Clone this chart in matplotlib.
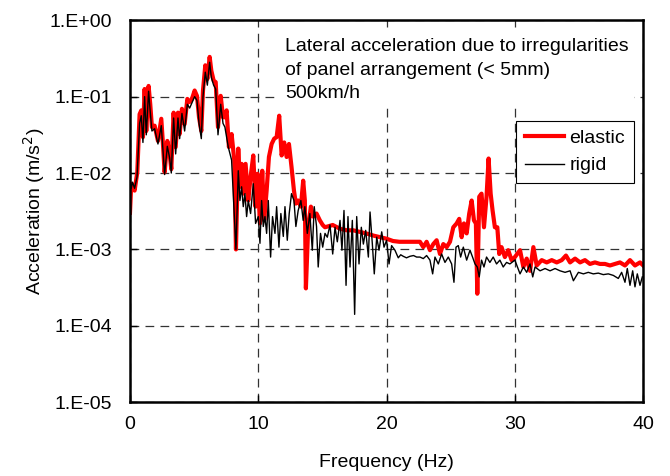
import numpy as np
import matplotlib
matplotlib.use("Agg")
import matplotlib.pyplot as plt
from matplotlib.ticker import FixedLocator, FuncFormatter, NullLocator

plt.rcParams['font.family'] = ['Liberation Sans', 'DejaVu Sans']
plt.rcParams['font.size'] = 14

# elastic track: frequency (Hz) and log10 of acceleration (m/s2)
elastic_freq = [0.0, 0.10, 0.2, 0.36, 0.57, 0.75, 0.88, 1.01, 1.14, 1.27,
                1.45, 1.58, 1.71, 1.92, 2.18, 2.44, 2.57, 2.70, 2.91, 3.09,
                3.22, 3.40, 3.56, 3.74, 3.87, 4.05, 4.26, 4.47, 4.65, 4.83,
                5.04, 5.22, 5.38, 5.56, 5.69, 5.87, 6.03, 6.21, 6.34, 6.52,
                6.68, 6.86, 7.07, 7.25, 7.40, 7.53, 7.71, 7.92, 8.13, 8.26,
                8.44, 8.57, 8.70, 8.83, 9.01, 9.22, 9.40, 9.61, 9.79, 9.95,
                10.13, 10.31, 10.46, 10.65, 10.83, 11.04, 11.24, 11.43, 11.63, 11.82,
                12.02, 12.21, 12.39, 12.59, 12.78, 12.93, 13.11, 13.32, 13.50, 13.63,
                13.71, 13.89, 14.10, 14.28, 14.54, 14.80, 15.02, 15.2, 15.8, 16.37,
                16.9, 17.4, 17.9, 18.4, 19.0, 19.5, 20.0, 20.5, 21.0, 21.6,
                22.1, 22.6, 22.86, 23.12, 23.38, 23.64, 23.9, 24.16, 24.42, 24.68,
                24.94, 25.2, 25.46, 25.66, 25.85, 26.03, 26.24, 26.44, 26.63, 26.81,
                26.96, 27.07, 27.22, 27.4, 27.59, 27.79, 27.95, 28.11, 28.26, 28.44,
                28.63, 28.78, 28.96, 29.22, 29.48, 29.74, 30.0, 30.4, 30.66, 30.92,
                31.18, 31.44, 31.7, 32.09, 32.48, 32.87, 33.26, 33.65, 33.98, 34.3,
                34.69, 35.08, 35.46, 35.85, 36.24, 36.63, 37.02, 37.41, 37.8, 38.19,
                38.58, 38.97, 39.36, 39.75, 40.0]
elastic_log = [-2.52, -2.14, -2.18, -2.23, -1.99, -1.23, -1.18, -1.53, -0.90, -1.45,
               -0.86, -1.10, -1.40, -1.38, -1.58, -1.29, -1.62, -1.99, -1.58, -1.75,
               -1.95, -1.21, -1.66, -1.21, -1.49, -1.16, -1.36, -1.03, -1.07, -1.03,
               -0.92, -0.99, -1.27, -1.45, -0.92, -0.59, -0.77, -0.48, -0.66, -0.79,
               -0.81, -1.40, -0.99, -1.27, -1.27, -1.18, -1.66, -1.49, -1.83, -3.00,
               -1.68, -2.18, -1.88, -2.27, -1.88, -2.36, -2.05, -1.77, -2.44, -2.01,
               -2.66, -1.97, -2.62, -2.23, -1.79, -1.62, -1.55, -1.53, -1.25, -1.77,
               -1.60, -1.79, -1.62, -1.92, -2.23, -2.40, -2.36, -2.44, -2.10, -2.36,
               -3.51, -2.70, -2.44, -2.57, -2.53, -2.62, -2.68, -2.71, -2.68, -2.73,
               -2.75, -2.75, -2.77, -2.79, -2.82, -2.84, -2.86, -2.89, -2.90, -2.90,
               -2.90, -2.90, -2.97, -2.90, -3.01, -2.93, -2.88, -3.06, -2.93, -2.97,
               -2.90, -2.71, -2.66, -2.60, -2.84, -2.66, -2.79, -2.53, -2.36, -2.62,
               -2.66, -3.58, -2.31, -2.27, -2.71, -2.31, -1.81, -2.27, -2.49, -2.71,
               -2.71, -3.06, -2.97, -3.10, -3.01, -3.14, -3.10, -3.01, -3.23, -3.12,
               -3.28, -2.97, -3.21, -3.14, -3.17, -3.14, -3.17, -3.14, -3.08, -3.17,
               -3.12, -3.17, -3.14, -3.19, -3.17, -3.19, -3.19, -3.21, -3.19, -3.17,
               -3.21, -3.14, -3.21, -3.17, -3.21]

# rigid track
rigid_freq = [0.0, 0.10, 0.2, 0.36, 0.55, 0.75, 0.88, 1.01, 1.14, 1.27,
              1.45, 1.58, 1.71, 1.92, 2.18, 2.44, 2.57, 2.70, 2.91, 3.09,
              3.22, 3.40, 3.56, 3.74, 3.87, 4.05, 4.26, 4.47, 4.65, 4.83,
              5.04, 5.22, 5.38, 5.56, 5.69, 5.87, 6.03, 6.21, 6.34, 6.52,
              6.68, 6.86, 7.07, 7.25, 7.40, 7.66, 7.92, 8.05, 8.26, 8.44,
              8.57, 8.70, 8.83, 8.96, 9.09, 9.22, 9.40, 9.61, 9.79, 10.0,
              10.13, 10.26, 10.39, 10.52, 10.65, 10.78, 10.96, 11.11, 11.30, 11.43,
              11.61, 11.76, 11.95, 12.08, 12.26, 12.41, 12.59, 12.78, 12.93, 13.11,
              13.32, 13.50, 13.63, 13.82, 14.02, 14.21, 14.36, 14.54, 14.67, 14.85,
              15.02, 15.2, 15.38, 15.59, 15.8, 15.98, 16.16, 16.37, 16.52, 16.68,
              16.84, 16.99, 17.15, 17.33, 17.51, 17.67, 17.85, 18.03, 18.19, 18.37,
              18.58, 18.71, 18.89, 19.04, 19.23, 19.41, 19.62, 19.80, 20.0, 20.19,
              20.39, 20.65, 20.91, 21.1, 21.3, 21.55, 21.82, 22.1, 22.34, 22.6,
              22.86, 23.12, 23.38, 23.59, 23.77, 24.03, 24.29, 24.55, 24.81, 25.07,
              25.25, 25.41, 25.59, 25.77, 25.98, 26.24, 26.5, 26.7, 26.89, 27.07,
              27.22, 27.4, 27.59, 27.79, 28.05, 28.31, 28.57, 28.83, 29.09, 29.35,
              29.61, 30.0, 30.4, 30.66, 30.92, 31.18, 31.39, 31.57, 31.96, 32.35,
              32.74, 33.13, 33.52, 33.91, 34.3, 34.56, 34.95, 35.34, 35.72, 36.11,
              36.5, 36.89, 37.28, 37.67, 38.06, 38.32, 38.58, 38.76, 38.97, 39.18,
              39.36, 39.54, 39.75, 39.93]
rigid_log = [-2.10, -2.20, -2.12, -2.20, -2.05, -1.35, -1.25, -1.60, -1.00, -1.50,
             -0.93, -1.20, -1.45, -1.42, -1.62, -1.38, -1.70, -2.02, -1.65, -1.80,
             -2.00, -1.28, -1.75, -1.28, -1.55, -1.22, -1.45, -1.10, -1.15, -1.08,
             -1.00, -1.05, -1.35, -1.55, -1.00, -0.68, -0.85, -0.55, -0.75, -0.85,
             -0.90, -1.50, -1.10, -1.35, -1.40, -1.66, -1.83, -2.27, -3.00, -1.97,
             -2.36, -2.18, -2.44, -2.27, -2.57, -2.36, -2.53, -2.14, -2.66, -2.57,
             -2.92, -2.36, -2.70, -2.57, -2.79, -2.36, -3.10, -2.57, -2.79, -2.44,
             -2.97, -2.53, -2.83, -2.44, -2.88, -2.53, -2.27, -2.36, -2.70, -2.49,
             -2.36, -2.62, -2.44, -2.79, -2.53, -3.01, -2.44, -2.70, -3.23, -2.79,
             -2.97, -2.79, -2.84, -2.68, -3.06, -2.71, -2.90, -2.62, -3.01, -2.49,
             -3.47, -2.57, -3.23, -2.62, -3.85, -2.57, -3.19, -2.71, -2.93, -2.75,
             -3.10, -2.51, -2.93, -3.32, -2.84, -3.01, -2.77, -2.97, -2.88, -3.19,
             -2.95, -3.01, -3.11, -3.07, -3.09, -3.11, -3.09, -3.08, -3.10, -3.10,
             -3.12, -3.08, -3.14, -3.32, -3.10, -3.19, -3.06, -3.17, -3.10, -3.19,
             -3.43, -2.97, -2.95, -3.10, -2.97, -3.14, -3.01, -3.10, -3.19, -3.23,
             -3.36, -3.14, -3.23, -3.10, -3.17, -3.10, -3.19, -3.14, -3.23, -3.17,
             -3.19, -3.14, -3.32, -3.23, -3.30, -3.19, -3.36, -3.23, -3.28, -3.25,
             -3.28, -3.25, -3.28, -3.30, -3.28, -3.41, -3.30, -3.32, -3.30, -3.32,
             -3.31, -3.33, -3.32, -3.34, -3.38, -3.30, -3.43, -3.25, -3.47, -3.28,
             -3.49, -3.32, -3.47, -3.36]

x_ticks = [0, 10, 20, 30, 40]
y_ticks = [1e-5, 1e-4, 1e-3, 1e-2, 1e-1, 1e0]

fig = plt.figure(figsize=(6.7, 4.76), dpi=100)
ax = fig.add_axes([0.194, 0.155, 0.766, 0.8025])

ax.plot(elastic_freq, 10 ** np.array(elastic_log), color='red', lw=3.0, label='elastic')
ax.plot(rigid_freq, 10 ** np.array(rigid_log), color='black', lw=1.0, label='rigid')

ax.set_yscale('log')
ax.set_xlim(0, 40)
ax.set_ylim(1e-5, 1)
ax.xaxis.set_major_locator(FixedLocator(x_ticks))
ax.yaxis.set_major_locator(FixedLocator(y_ticks))
ax.yaxis.set_minor_locator(NullLocator())
ax.yaxis.set_major_formatter(FuncFormatter(lambda v, p: "1.E%+03d" % int(round(np.log10(v)))))

ax.grid(True, color='#333333', ls=(0, (7, 5)), lw=0.9)
ax.tick_params(direction='in', length=5, width=1)
ax.tick_params(axis='y', pad=13)
ax.tick_params(axis='x', pad=10)
for s in ax.spines.values():
    s.set_linewidth(1.8)

ax.set_xlabel('Frequency (Hz)', labelpad=15)
ax.set_ylabel('Acceleration (m/s$^2$)', labelpad=2)

# note box is opaque, it hides the grid behind it
ax.text(0.302, 0.953, 'Lateral acceleration due to irregularities\n'
        'of panel arrangement (< 5mm)\n500km/h',
        transform=ax.transAxes, va='top', ha='left', linespacing=1.5,
        bbox=dict(boxstyle='square,pad=0.3', facecolor='white', edgecolor='none'))

leg = ax.legend(loc='upper right', bbox_to_anchor=(0.982, 0.737), fancybox=False,
                edgecolor='black', framealpha=1, handlelength=2.0, borderpad=0.45,
                labelspacing=0.5, handletextpad=0.3, borderaxespad=0)
leg.get_frame().set_linewidth(0.8)

fig.savefig('out.png', dpi=100)
